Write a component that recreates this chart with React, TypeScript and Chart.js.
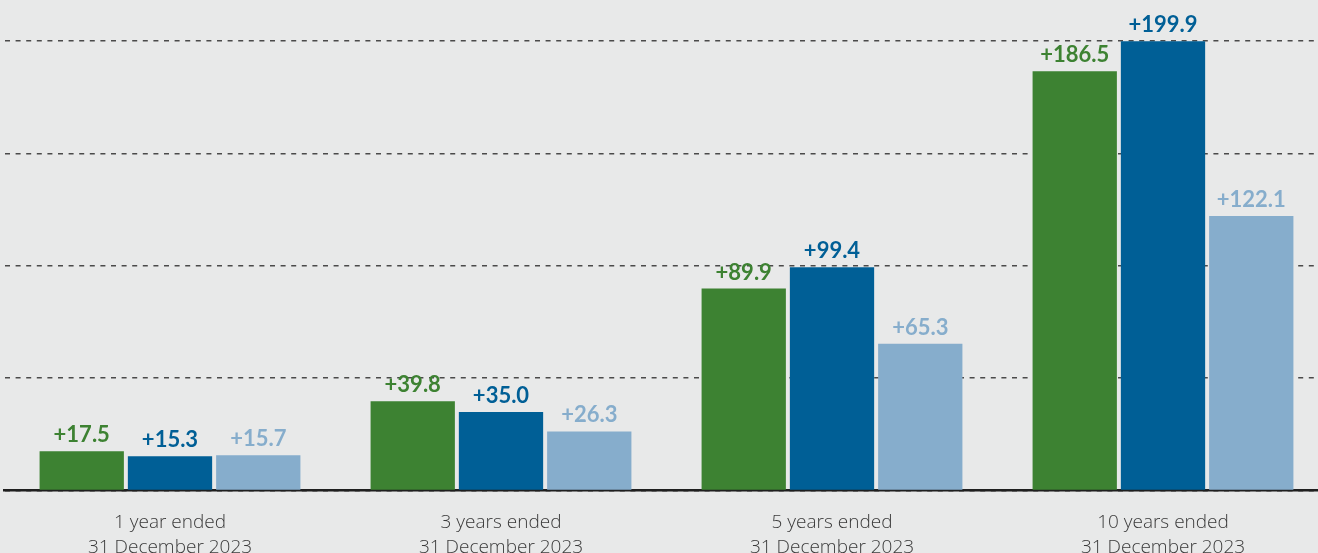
import React, { useEffect, useRef } from "react";
import { Chart, registerables } from "chart.js";

Chart.register(...registerables);

const categories: string[][] = [
  ["1 year ended", "31 December 2023"],
  ["3 years ended", "31 December 2023"],
  ["5 years ended", "31 December 2023"],
  ["10 years ended", "31 December 2023"],
];
const seriesGreen = [17.5, 39.8, 89.9, 186.5];
const seriesBlue = [15.3, 35.0, 99.4, 199.9];
const seriesLight = [15.7, 26.3, 65.3, 122.1];
const yTicks = [0, 50, 100, 150, 200];

const BG = "#e8e9e9";
const GREEN = "#3d8232";
const BLUE = "#005f96";
const LIGHT = "#86adcc";

export default function App() {
  const ref = useRef<HTMLCanvasElement | null>(null);

  useEffect(() => {
    document.body.style.margin = "0";
    document.body.style.background = BG;
    document.documentElement.style.overflow = "hidden";
    const canvas = ref.current;
    if (!canvas) return;

    const bgPlugin = {
      id: "bg",
      beforeDraw(chart: any) {
        const { ctx, width, height } = chart;
        ctx.save();
        ctx.fillStyle = BG;
        ctx.fillRect(0, 0, width, height);
        ctx.restore();
      },
    };

    const labelPlugin = {
      id: "valueLabels",
      afterDatasetsDraw(chart: any) {
        const { ctx } = chart;
        ctx.save();
        ctx.font = "bold 22px Lato";
        ctx.textAlign = "center";
        ctx.textBaseline = "alphabetic";
        chart.data.datasets.forEach((ds: any, di: number) => {
          const meta = chart.getDatasetMeta(di);
          meta.data.forEach((el: any, i: number) => {
            const v = ds.data[i] as number;
            ctx.fillStyle = ds.backgroundColor;
            ctx.fillText("+" + v.toFixed(1), el.x, el.y - 9);
          });
        });
        ctx.restore();
      },
    };

    const chart = new Chart(canvas, {
      type: "bar",
      data: {
        labels: categories,
        datasets: [
          { label: "Green", data: seriesGreen, backgroundColor: GREEN },
          { label: "Blue", data: seriesBlue, backgroundColor: BLUE },
          { label: "Light", data: seriesLight, backgroundColor: LIGHT },
        ],
      },
      options: {
        animation: false,
        responsive: false,
        maintainAspectRatio: false,
        datasets: {
          bar: { categoryPercentage: 0.8, barPercentage: 0.955 },
        },
        layout: { padding: { left: 4.5, right: 1.5, top: 41, bottom: 0 } },
        plugins: {
          legend: { display: false },
          tooltip: { enabled: false },
        },
        scales: {
          x: {
            grid: { display: false, drawTicks: false },
            border: { display: true, color: "#1f1f1f", width: 2.5 },
            ticks: {
              color: "#3a3a3a",
              padding: 20,
              font: { family: "'Open Sans'", size: 19, weight: 300 as any, lineHeight: 1.3 },
              maxRotation: 0,
              autoSkip: false,
            },
          },
          y: {
            min: yTicks[0],
            max: yTicks[yTicks.length - 1],
            afterBuildTicks(scale: any) {
              scale.ticks = yTicks.map((v) => ({ value: v }));
            },
            ticks: { display: false },
            border: { display: false, dash: [5, 5.6] },
            grid: {
              drawTicks: false,
              color: "#4a4a4a",
              lineWidth: 1.5,
            },
          },
        },
      },
      plugins: [bgPlugin, labelPlugin],
    });

    return () => chart.destroy();
  }, []);

  return (
    <div style={{ width: 1330, height: 580, overflow: "hidden", background: BG }}>
      <canvas ref={ref} width={1330} height={580} style={{ display: "block" }} />
    </div>
  );
}
